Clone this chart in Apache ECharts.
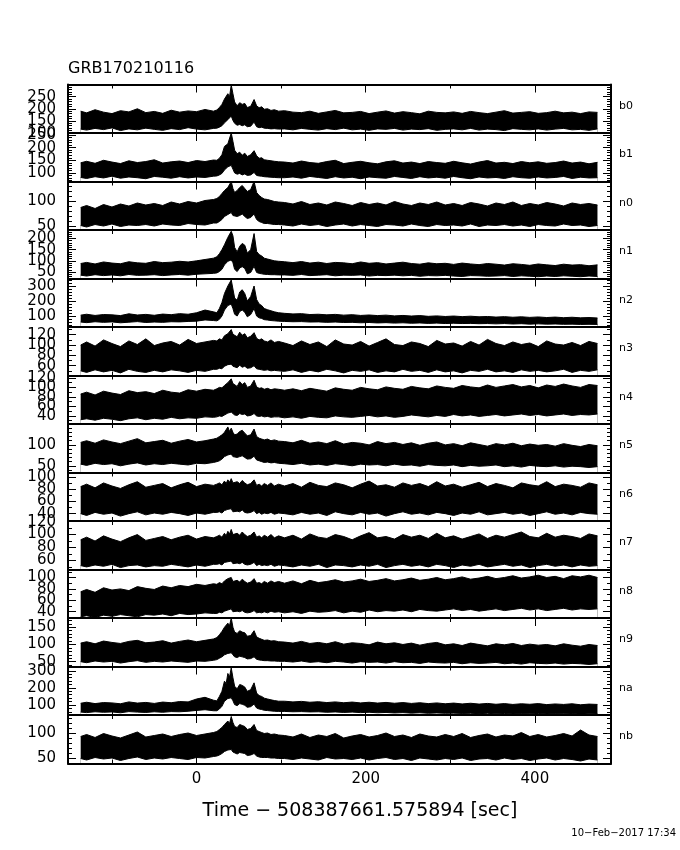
<!DOCTYPE html>
<html><head><meta charset="utf-8">
<script src="https://cdn.jsdelivr.net/npm/echarts@6/dist/echarts.min.js"></script>
<style>html,body{margin:0;padding:0;background:#fff}#c{width:680px;height:850px}</style>
</head><body><div id="c"></div>
<script>
// Time grid (seconds relative to trigger)
const t = [-137,-130,-120,-110,-100,-90,-80,-70,-60,-50,-40,-30,-20,-10,0,10,20,
  24,27,30,33,35,37,39,41,43,45,48,51,54,57,60,64,68,71,74,77,80,84,88,92,97,
  104,114,124,134,144,154,164,174,184,194,204,214,224,234,244,254,264,274,284,294,304,314,324,334,344,354,364,374,384,394,404,414,424,434,444,454,464,474];

// Envelopes (low / high count rate) per detector
const b0Lo = [116,112,119,114,121,110,117,113,120,115,111,118,114,122,116,113,119,
  120,124,130,142,138,155,150,170,152,140,132,135,130,134,126,128,145,126,122,124,120,119,117,118,116,
  117,113,119,115,112,118,114,120,113,116,111,117,115,119,112,116,114,118,111,115,117,113,119,112,116,114,110,118,115,113,117,112,116,119,113,115,111,117];
const b0Hi = [190,183,196,186,180,192,187,200,184,189,181,194,186,191,188,197,190,
  195,205,218,240,232,262,250,298,262,228,212,225,218,222,205,210,238,212,204,208,198,200,193,196,190,
  192,186,184,190,181,187,193,183,185,189,180,186,191,182,188,184,179,190,185,183,187,181,189,184,180,186,192,182,185,188,181,184,190,183,186,180,187,185];
const b1Lo = [82,78,85,80,87,79,84,81,77,86,83,79,85,80,84,82,87,
  88,92,98,112,108,124,118,130,115,100,95,98,92,96,90,92,102,90,88,87,85,84,83,82,81,
  81,84,79,86,82,78,85,80,83,77,84,81,79,86,82,78,85,80,83,79,86,81,77,84,80,82,78,85,81,79,84,80,82,86,78,83,80,81];
const b1Hi = [140,146,138,150,143,137,148,141,145,152,139,144,147,141,149,145,151,
  150,158,172,205,198,215,212,258,225,190,176,182,170,178,165,172,188,168,158,160,152,150,148,146,144,
  143,139,147,141,138,145,150,137,142,146,140,136,144,148,139,143,137,145,141,138,146,140,135,143,149,139,142,137,145,140,144,138,141,147,139,143,136,142];
const n0Lo = [52,49,54,51,55,50,53,52,54,51,55,53,52,56,54,53,57,
  57,60,64,70,68,74,72,78,72,68,70,72,75,70,66,68,75,64,60,58,56,56,55,54,54,
  53,51,55,52,54,50,53,55,51,54,52,50,54,53,51,55,52,50,54,52,53,51,55,50,53,52,54,51,53,50,54,52,51,55,52,53,50,52];
const n0Hi = [88,92,86,94,89,95,91,97,93,96,92,99,95,100,97,102,104,
  106,110,116,122,118,128,124,140,126,118,122,128,132,126,120,124,140,118,112,108,105,104,102,100,99,
  98,95,100,94,97,93,99,96,92,98,94,97,93,100,95,92,97,94,99,93,96,92,98,95,91,97,94,99,92,96,93,98,95,91,97,94,96,93];
const n1Lo = [36,32,38,34,37,33,39,35,36,38,34,37,39,36,40,42,44,
  46,52,62,82,78,98,95,104,92,62,52,68,74,66,42,48,76,48,44,42,40,39,38,38,37,
  37,35,39,34,36,38,33,36,35,37,32,35,34,36,33,35,31,34,33,35,32,30,34,33,31,32,34,30,33,31,29,32,30,33,31,29,32,30];
const n1Hi = [88,93,86,95,90,87,96,91,89,97,92,94,98,95,100,106,112,
  118,132,150,172,168,205,200,232,212,160,140,165,178,170,135,150,222,142,128,122,112,108,104,100,98,
  96,92,97,90,94,88,93,91,87,95,89,92,86,90,94,88,85,91,87,89,84,90,86,83,88,85,81,87,84,80,86,82,79,85,81,83,78,82];
const n2Lo = [60,56,62,58,61,55,59,63,57,60,58,62,61,64,66,74,70,
  68,78,100,140,132,170,160,180,150,112,100,130,140,125,95,110,150,100,88,84,76,73,70,68,66,
  64,62,63,60,61,58,60,57,58,55,57,54,56,53,55,52,54,51,53,50,52,50,51,49,50,48,50,47,49,46,48,46,47,45,46,44,45,44];
const n2Hi = [106,112,104,110,108,103,115,107,111,105,113,109,116,112,122,140,128,
  122,150,190,250,240,300,290,340,280,220,205,260,275,250,200,230,300,210,180,170,150,142,135,128,122,
  118,114,116,110,112,108,111,106,109,104,107,103,106,101,104,100,103,98,101,97,100,96,99,95,97,93,96,92,95,91,94,90,93,89,92,88,90,87];
const n3Lo = [50,47,52,48,51,46,53,49,47,51,48,52,50,47,51,49,53,
  53,55,54,59,57,62,60,63,59,57,56,61,57,59,55,56,60,54,53,52,51,52,50,51,50,
  49,52,47,51,48,53,50,46,51,49,52,47,50,48,53,49,51,47,52,48,50,46,51,49,53,48,50,47,52,49,51,48,50,53,47,51,49,52];
const n3Hi = [100,106,98,110,103,97,108,101,112,99,104,107,100,111,103,106,109,
  108,112,110,118,115,122,120,130,121,118,116,125,119,122,114,117,124,113,110,112,108,106,110,105,107,
  104,99,108,101,106,97,110,102,100,107,98,105,112,101,99,106,103,97,109,102,104,98,107,100,111,103,99,106,101,104,97,108,102,100,105,99,107,103];
const n4Lo = [32,34,31,35,33,30,34,36,32,35,33,37,34,36,35,38,37,
  38,40,39,42,41,46,43,48,44,42,41,45,43,44,40,41,45,40,39,40,38,39,37,38,38,
  36,38,35,39,37,36,40,38,37,39,41,38,40,37,39,42,40,38,41,39,43,40,42,39,41,43,40,42,44,41,43,40,42,44,41,43,42,44];
const n4Hi = [86,90,84,92,88,85,93,89,91,87,94,90,88,95,92,96,94,
  97,100,99,104,102,110,106,118,108,104,102,112,106,110,100,103,115,101,98,99,96,98,95,97,96,
  94,97,93,98,95,92,99,96,94,100,97,95,101,98,96,102,99,97,103,100,98,104,101,99,105,100,103,106,101,104,99,105,102,107,103,100,106,104];
const n5Lo = [54,51,56,53,55,50,54,57,52,55,53,56,54,52,56,55,58,
  60,62,66,72,70,76,74,78,72,68,70,72,74,70,66,67,73,64,62,60,58,59,57,58,56,
  55,53,56,52,54,51,55,53,50,54,52,53,50,54,51,52,49,53,51,50,52,48,51,49,50,52,48,50,47,51,49,48,50,47,49,48,46,48];
const n5Hi = [106,110,104,112,107,103,109,115,105,108,111,104,109,113,107,110,114,
  116,120,124,130,126,143,132,140,130,124,126,132,135,128,122,124,138,120,116,114,112,114,110,112,109,
  108,105,111,104,107,103,110,102,106,104,100,108,103,106,101,105,99,104,107,100,103,98,105,101,97,103,100,104,98,102,99,101,97,103,99,96,101,98];
const n6Lo = [40,37,42,39,41,36,40,43,38,41,39,42,40,37,41,39,42,
  42,43,41,45,43,47,44,48,43,42,44,43,46,42,41,42,45,40,42,39,41,40,42,39,41,
  40,38,42,39,41,37,43,40,38,42,39,41,36,40,43,39,41,38,42,40,37,41,39,43,38,40,42,39,41,37,40,43,39,41,38,42,40,39];
const n6Hi = [84,88,82,90,85,81,87,92,83,86,89,82,87,91,84,88,86,
  88,90,87,93,89,95,91,97,90,88,92,89,94,90,87,89,95,86,88,85,89,86,90,85,88,
  85,89,83,91,86,84,90,87,82,88,93,85,87,83,90,86,89,84,92,85,88,83,87,91,84,89,86,82,90,87,85,92,84,88,86,83,90,87];
const n7Lo = [52,50,53,51,54,49,52,53,50,52,51,54,52,50,53,51,54,
  54,55,53,57,55,58,56,59,55,54,56,55,57,54,53,54,57,52,54,52,53,52,54,51,53,
  52,50,53,51,54,49,53,52,50,53,51,54,49,52,54,51,53,50,54,52,49,53,51,54,50,52,54,51,53,49,52,54,51,53,50,53,51,52];
const n7Hi = [92,96,90,98,93,89,95,100,91,94,97,92,96,99,93,97,95,
  97,99,96,102,98,105,101,108,100,98,102,99,104,100,97,99,104,96,98,95,99,96,100,95,98,
  95,99,93,101,96,94,100,97,92,98,103,95,97,93,100,96,99,94,102,95,98,93,97,101,94,99,96,100,104,97,95,102,96,99,97,94,101,98];
const n8Lo = [31,33,30,34,32,35,33,31,35,34,36,33,37,35,36,38,37,
  37,39,38,41,40,43,41,45,40,39,41,40,42,39,38,39,42,38,39,38,40,38,41,39,40,
  38,40,37,41,39,40,42,38,41,39,43,40,42,41,43,40,44,42,41,43,45,42,44,41,43,45,42,44,46,43,45,42,44,46,43,45,44,45];
const n8Hi = [75,79,74,82,78,80,77,84,81,79,85,82,86,84,88,86,89,
  88,91,89,94,92,98,95,100,93,91,95,92,97,93,90,92,98,90,91,89,93,90,94,91,93,
  90,94,89,95,91,93,96,92,94,97,93,95,98,94,96,99,95,97,100,96,98,101,97,99,102,98,100,103,99,101,104,100,102,98,103,101,104,100];
const n9Lo = [50,47,52,49,51,46,50,53,48,51,49,52,50,48,52,51,54,
  56,60,64,70,68,74,72,76,70,64,62,66,64,62,58,59,64,57,55,54,53,53,52,52,51,
  51,49,52,48,50,47,51,49,46,50,48,49,46,50,47,48,45,49,47,46,48,44,47,45,46,48,44,46,43,47,45,44,46,43,45,44,42,44];
const n9Hi = [104,108,102,110,106,103,109,112,105,107,111,104,109,113,108,112,116,
  120,128,138,150,146,162,155,177,150,136,132,140,136,134,124,126,140,122,118,115,112,113,110,111,108,
  107,104,109,103,106,102,108,101,105,103,99,107,102,105,100,104,98,103,106,99,102,97,104,100,96,102,99,103,97,101,98,100,96,102,98,95,100,97];
const naLo = [58,55,60,57,59,54,61,58,56,60,57,61,60,63,68,72,66,
  66,76,92,122,115,138,130,142,125,102,96,108,104,98,86,90,105,82,76,73,69,67,65,63,62,
  62,60,61,59,60,57,59,56,58,55,57,54,56,53,55,52,54,51,53,51,52,50,51,49,51,48,50,47,49,48,50,47,49,48,50,46,48,47];
const naHi = [110,116,108,114,112,107,118,111,115,109,117,113,120,118,135,145,128,
  124,150,180,240,225,285,265,318,260,210,195,220,215,205,180,190,230,170,155,150,140,135,130,126,122,
  122,118,121,116,119,114,118,113,117,112,116,111,115,110,114,109,113,108,112,107,111,106,110,105,109,104,108,103,107,104,108,102,106,103,107,101,105,103];
const nbLo = [50,47,52,49,51,46,50,53,48,51,49,52,50,48,52,51,54,
  55,57,60,64,62,67,65,68,63,60,59,62,61,60,56,57,60,55,53,52,52,52,51,51,50,
  50,48,51,49,47,52,49,50,48,51,47,50,52,48,50,46,51,49,47,50,48,51,46,49,50,47,51,48,50,46,49,51,47,50,48,45,49,47];
const nbHi = [94,98,92,100,95,91,97,103,93,96,99,94,98,101,96,99,102,
  104,108,112,118,115,125,120,134,122,114,112,118,116,114,108,110,118,106,104,102,100,101,98,99,97,
  96,93,99,92,97,94,100,91,95,98,93,96,101,94,97,92,99,95,93,98,94,100,92,96,99,93,97,95,102,94,98,93,96,100,95,107,97,94];

const detectors = ['b0','b1','n0','n1','n2','n3','n4','n5','n6','n7','n8','n9','na','nb'];
const yMins = [100,66,43,21,27,41,23,34,28,46,29,36,41,40];
const yMaxs = [300,258,140,238,350,135,125,150,107,121,114,177,326,137];
const yTickLabels = [[100,150,200,250],[100,150,200,250],[50,100],[50,100,150,200],[100,200,300],
  [60,80,100,120],[40,60,80,100,120],[50,100],[40,60,80,100],[60,80,100,120],[40,60,80,100],
  [50,100,150],[100,200,300],[50,100]];
const yMinorSteps = [10,10,10,10,20,10,10,10,10,10,10,10,20,10];
const xTickLabels = [0,200,400];
const xMinorTicks = [-100,100,300];
const xMin = -152, xMax = 490;
const titleText = 'GRB170210116';
const xTitle = 'Time − 508387661.575894 [sec]';
const dateText = '10−Feb−2017 17:34';

const LOS = [b0Lo,b1Lo,n0Lo,n1Lo,n2Lo,n3Lo,n4Lo,n5Lo,n6Lo,n7Lo,n8Lo,n9Lo,naLo,nbLo];
const HIS = [b0Hi,b1Hi,n0Hi,n1Hi,n2Hi,n3Hi,n4Hi,n5Hi,n6Hi,n7Hi,n8Hi,n9Hi,naHi,nbHi];

const FONT = 'DejaVu Sans';
const N = detectors.length, top0 = 84.5, ph = 48.5, L = 68, R = 611;
const grids = [], xAxes = [], yAxes = [], series = [], graphics = [];

function xAx(i, pos, ticks, len, withLine, labels) {
  return {
    gridIndex: i, type: 'value', min: xMin, max: xMax, position: pos, z: 10,
    splitLine: {show: false},
    axisLine: {show: withLine, onZero: false, lineStyle: {color: '#000', width: 2}},
    axisTick: {show: true, inside: true, length: len, customValues: ticks, lineStyle: {color: '#000', width: 1}},
    axisLabel: labels ? {show: true, customValues: labels, margin: 8, color: '#000', fontSize: 15, fontFamily: FONT,
      hideOverlap: false} : {show: false}
  };
}
function yAx(i, pos, ticks, len, withLine) {
  return {
    gridIndex: i, type: 'value', min: yMins[i], max: yMaxs[i], position: pos, z: 10,
    splitLine: {show: false},
    axisLine: {show: withLine, onZero: false, lineStyle: {color: '#000', width: 2}},
    axisTick: {show: true, inside: true, length: len, customValues: ticks, lineStyle: {color: '#000', width: 1}},
    axisLabel: {show: false}
  };
}

for (let i = 0; i < N; i++) {
  const top = top0 + ph * i;
  grids.push({left: L, top: top, width: R - L, height: ph, containLabel: false});
  const last = i === N - 1;
  xAxes.push(xAx(i, 'bottom', xTickLabels, 8, true, last ? xTickLabels : null));
  xAxes.push(xAx(i, 'bottom', xMinorTicks, 4, false, null));
  xAxes.push(xAx(i, 'top', xTickLabels, 8, true, null));
  xAxes.push(xAx(i, 'top', xMinorTicks, 4, false, null));
  const minor = [];
  const st = yMinorSteps[i];
  for (let v = Math.ceil(yMins[i] / st) * st; v <= yMaxs[i]; v += st) minor.push(v);
  yAxes.push(yAx(i, 'left', yTickLabels[i], 8, true));
  yAxes.push(yAx(i, 'left', minor, 4, false));
  yAxes.push(yAx(i, 'right', yTickLabels[i], 8, true));
  yAxes.push(yAx(i, 'right', minor, 4, false));

  const hi = HIS[i], lo = LOS[i];
  series.push({
    type: 'line', xAxisIndex: 4 * i, yAxisIndex: 4 * i, z: 2, silent: true,
    data: t.map((x, k) => [x, hi[k]]), symbol: 'none', showSymbol: false,
    lineStyle: {color: '#000', width: 1}, areaStyle: {color: '#000', opacity: 1, origin: 'start'}
  });
  series.push({
    type: 'line', xAxisIndex: 4 * i, yAxisIndex: 4 * i, z: 3, silent: true,
    data: t.map((x, k) => [x, lo[k]]), symbol: 'none', showSymbol: false,
    lineStyle: {color: '#000', width: 1}, areaStyle: {color: '#fff', opacity: 1, origin: 'start'}
  });
  graphics.push({type: 'text', x: 619, y: top + ph / 2 - 3,
    style: {text: detectors[i], fontSize: 11, fontFamily: FONT, fill: '#000', align: 'left', verticalAlign: 'middle'}});
}
graphics.push({type: 'text', x: 68, y: 69,
  style: {text: titleText, fontSize: 16, fontFamily: FONT, fill: '#000', align: 'left', verticalAlign: 'middle'}});
graphics.push({type: 'text', x: 360, y: 811,
  style: {text: xTitle, fontSize: 19, fontFamily: FONT, fill: '#000', align: 'center', verticalAlign: 'middle'}});
graphics.push({type: 'text', x: 676, y: 833,
  style: {text: dateText, fontSize: 10, fontFamily: FONT, fill: '#000', align: 'right', verticalAlign: 'middle'}});

const chart = echarts.init(document.getElementById('c'), null, {renderer: 'canvas'});
chart.setOption({
  animation: false,
  backgroundColor: '#fff',
  grid: grids, xAxis: xAxes, yAxis: yAxes, series: series, graphic: graphics
});

// Y tick labels placed through each panel's own y scale
const labelGraphics = [];
for (let i = 0; i < N; i++) {
  yTickLabels[i].forEach(v => {
    const p = chart.convertToPixel({xAxisIndex: 4 * i, yAxisIndex: 4 * i}, [xMin, v]);
    labelGraphics.push({type: 'text', x: p[0] - 12, y: p[1],
      style: {text: String(v), fontSize: 15, fontFamily: FONT, fill: '#000', align: 'right', verticalAlign: 'middle'}});
  });
}
chart.setOption({graphic: graphics.concat(labelGraphics)});
</script></body></html>
